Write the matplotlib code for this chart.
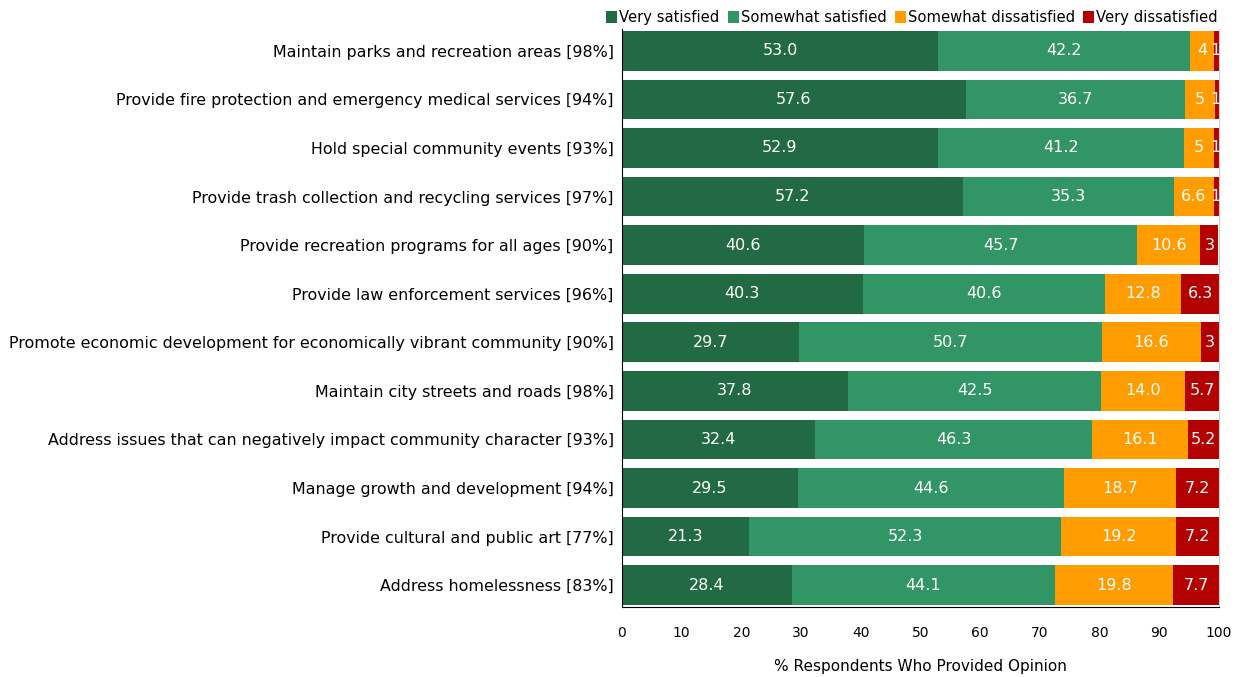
import matplotlib

matplotlib.use("Agg")
import matplotlib.pyplot as plt
from matplotlib.patches import Patch

# 滿意度調查：各項市政服務的意見分布（%）
services = [
    "Maintain parks and recreation areas [98%]",
    "Provide fire protection and emergency medical services [94%]",
    "Hold special community events [93%]",
    "Provide trash collection and recycling services [97%]",
    "Provide recreation programs for all ages [90%]",
    "Provide law enforcement services [96%]",
    "Promote economic development for economically vibrant community [90%]",
    "Maintain city streets and roads [98%]",
    "Address issues that can negatively impact community character [93%]",
    "Manage growth and development [94%]",
    "Provide cultural and public art [77%]",
    "Address homelessness [83%]",
]
categories = ["Very satisfied", "Somewhat satisfied", "Somewhat dissatisfied", "Very dissatisfied"]

# 整數 = 圖上標成整數的窄段
very_satisfied = [53.0, 57.6, 52.9, 57.2, 40.6, 40.3, 29.7, 37.8, 32.4, 29.5, 21.3, 28.4]
somewhat_satisfied = [42.2, 36.7, 41.2, 35.3, 45.7, 40.6, 50.7, 42.5, 46.3, 44.6, 52.3, 44.1]
somewhat_dissatisfied = [4, 5, 5, 6.6, 10.6, 12.8, 16.6, 14.0, 16.1, 18.7, 19.2, 19.8]
very_dissatisfied = [1, 1, 1, 1, 3, 6.3, 3, 5.7, 5.2, 7.2, 7.2, 7.7]

colors = ["#216a43", "#329566", "#ff9c00", "#b30000"]


def _fmt(v):
    return str(v) if isinstance(v, int) else f"{v:.1f}"


fig = plt.figure(figsize=(12.38, 6.77), dpi=100)
ax = fig.add_axes([622 / 1238, 1 - 607 / 677, (1219 - 622) / 1238, (607 - 29) / 677])

ypos = list(range(len(services)))
left = [0.0] * len(services)
for series, color in zip(
    [very_satisfied, somewhat_satisfied, somewhat_dissatisfied, very_dissatisfied], colors
):
    bars = ax.barh(ypos, series, left=left, height=0.82, color=color, edgecolor="none")
    for b, v in zip(bars, series):
        cx = b.get_x() + b.get_width() / 2
        if cx < 100:
            ax.text(min(cx, 99.45) if v <= 1 else cx, b.get_y() + b.get_height() / 2, _fmt(v),
                    ha="center", va="center", color="white", fontsize=11.5)
    left = [l + v for l, v in zip(left, series)]

ax.set_xlim(0, 100)
ax.set_ylim(len(services) - 0.55, -0.45)
ax.set_yticks(ypos)
ax.set_yticklabels(services, fontsize=11.4)
ax.set_xticks(range(0, 101, 10))
ax.tick_params(axis="x", length=0, labelsize=10, pad=14)
ax.tick_params(axis="y", length=0, pad=6)
ax.set_xlabel("% Respondents Who Provided Opinion", fontsize=11, labelpad=13)

ax.spines["top"].set_visible(False)
ax.spines["right"].set_color("#cccccc")
ax.spines["left"].set_color("black")
ax.spines["bottom"].set_color("black")

handles = [Patch(facecolor=c, edgecolor="none") for c in colors]
fig.legend(handles, categories, loc="upper right", bbox_to_anchor=(1224 / 1238, 1 - 4 / 677),
           ncol=4, frameon=False, fontsize=10.6, handlelength=0.75, handleheight=0.9,
           handletextpad=0.15, columnspacing=0.55, borderaxespad=0)

fig.savefig("out.png", dpi=100)
